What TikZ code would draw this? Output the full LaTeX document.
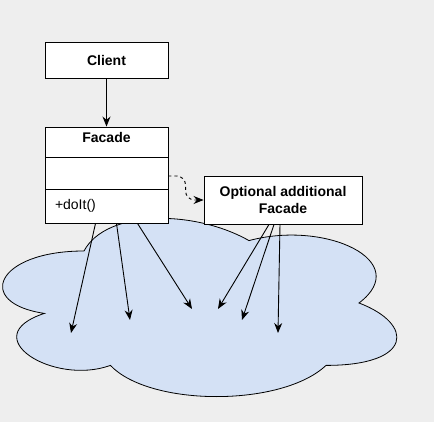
\documentclass[tikz,border=0pt]{standalone}
\usepackage{fontspec}
\setmainfont{Liberation Sans}
\usepackage{tikz}
\usetikzlibrary{arrows.meta}
\definecolor{fc_back}{HTML}{EEEEEE}
\definecolor{fc_cloud}{HTML}{D4E1F5}

\begin{document}
\begin{tikzpicture}[x=1pt, y=-1pt,
        box/.style={draw, fill=white, line width=0.9pt, minimum width=123pt, inner sep=0pt,
                    font=\fontsize{14}{17}\selectfont\bfseries},
        arr/.style={draw, line width=0.9pt, -{Stealth[length=10pt, width=8pt]}},
        dep/.style={arr, dash pattern=on 3pt off 3pt, rounded corners=9pt}]

    \path[use as bounding box, fill=fc_back] (0, 0) rectangle (434, 422);

    % subsystem cloud
    \draw[fill=fc_cloud, line width=0.8pt] (84, 251)
        .. controls (-4, 251) and (-26, 303) .. (44.4, 313.4)
        .. controls (-26, 336.3) and (53.2, 386.2) .. (110.4, 365.4)
        .. controls (150, 407) and (282, 407) .. (326, 365.4)
        .. controls (414, 365.4) and (414, 323.8) .. (359, 303)
        .. controls (414, 261.4) and (326, 219.8) .. (249, 240.6)
        .. controls (194, 209.4) and (106, 209.4) .. (84, 251) -- cycle;

    \node[box, minimum height=36pt] (client) at (106.5, 60) {Client};

    \node[box, minimum height=30pt, text height=9pt, text depth=7pt] (facade) at (106.5, 142) {Facade};
    \node[box, minimum height=32pt] (attr) at (106.5, 173) {};
    \node[box, minimum height=34pt, inner xsep=10pt, text width=103pt, align=left,
          font=\fontsize{14}{17}\selectfont] (ops) at (106.5, 206) {+doIt()};

    \node[box, minimum width=158pt, minimum height=48pt, align=center] (opt) at (283, 200)
        {Optional additional\\Facade};

    \coordinate (t1) at (71, 333);
    \coordinate (t2) at (130, 320);
    \coordinate (t3) at (192, 309);
    \coordinate (t4) at (218, 309);
    \coordinate (t5) at (242, 320);
    \coordinate (t6) at (278, 333);

    \draw[arr] (client.south) -- (facade.north);
    \draw[dep] ([yshift=-3pt]attr.east) -| ([xshift=-18pt]opt.west) -- (opt.west);

    \draw[arr] ([xshift=-11pt]ops.south) -- (t1);
    \draw[arr] ([xshift=10pt]ops.south) -- (t2);
    \draw[arr] ([xshift=31pt]ops.south) -- (t3);
    \draw[arr] ([xshift=-14pt]opt.south) -- (t4);
    \draw[arr] ([xshift=-9pt]opt.south) -- (t5);
    \draw[arr] ([xshift=-3pt]opt.south) -- (t6);

\end{tikzpicture}
\end{document}
